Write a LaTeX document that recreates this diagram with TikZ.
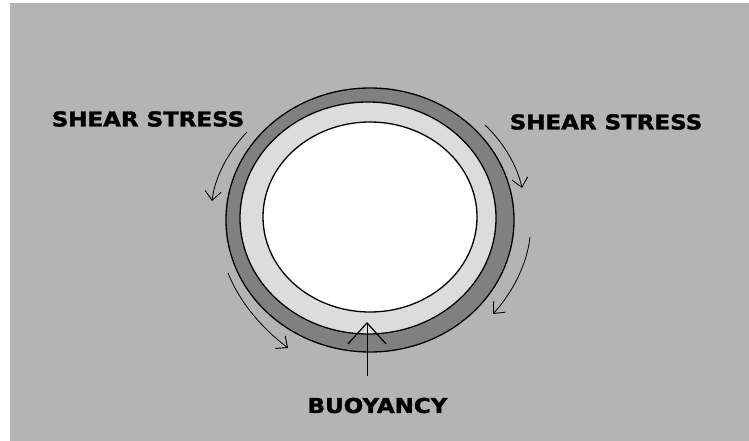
\documentclass[tikz,border=0pt]{standalone}
\usepackage{fontspec}
\setmainfont{DejaVu Sans}
\newfontfamily\heavyfont[FakeBold=1.6]{DejaVu Sans Bold}
\usetikzlibrary{arrows.meta}
\definecolor{bggray}{RGB}{180,180,180}
\definecolor{ringdark}{RGB}{128,128,128}
\definecolor{ringlight}{RGB}{220,220,220}
\begin{document}
\begin{tikzpicture}[x=1pt,y=-1pt,
  ringline/.style={draw=black,line width=1.3pt},
  shear/.style={draw=black,line width=0.8pt,-{Straight Barb[length=9pt,width=16pt,line width=0.9pt]}},
  label/.style={font=\heavyfont\fontsize{20.5}{22}\selectfont,text=black,inner sep=0pt,xscale=1.12}]
\useasboundingbox (0,0) rectangle (749,441);
\fill[white] (0,0) rectangle (749,441);
\fill[bggray] (10,3) rectangle (749,441);
% rings
\path[ringline,fill=ringdark] (370,220) ellipse [x radius=144,y radius=132];
\path[ringline,fill=ringlight] (368,218) ellipse [x radius=128,y radius=116];
\path[ringline,fill=white] (370,217) ellipse [x radius=107,y radius=95];
% labels
\node[label] (sl) at (148,119) {SHEAR STRESS};
\node[label] (sr) at (606,122) {SHEAR STRESS};
\node[label] (bu) at (377.5,405.5) {BUOYANCY};
% shear arrows
\coordinate (a1s) at (247,132); \coordinate (a1e) at (212,201);
\coordinate (a2s) at (485,125); \coordinate (a2e) at (522,188);
\coordinate (a3s) at (530,237); \coordinate (a3e) at (493,314);
\coordinate (a4s) at (228,273); \coordinate (a4e) at (288,348);
\draw[shear] (a1s) .. controls (230,150) and (215,175) .. (a1e);
\draw[shear] (a2s) .. controls (503,142) and (517,165) .. (a2e);
\draw[shear] (a3s) .. controls (527,265) and (512,293) .. (a3e);
\draw[shear] (a4s) .. controls (240,303) and (262,328) .. (a4e);
% buoyancy arrow
\coordinate (bs) at (367,376); \coordinate (be) at (367,322);
\draw[black,line width=1pt,-{Straight Barb[length=21pt,width=38pt,line width=1.2pt]}] (bs) -- (be);
\end{tikzpicture}
\end{document}
